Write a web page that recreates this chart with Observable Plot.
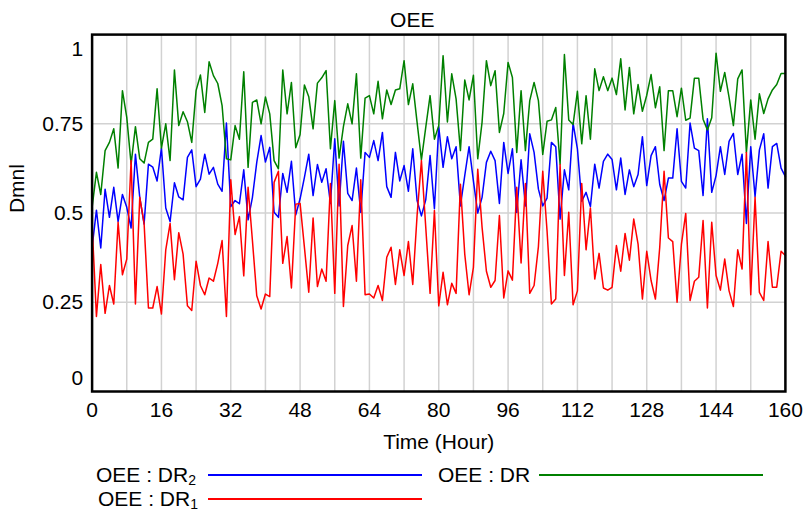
<!DOCTYPE html>
<html>
<head>
<meta charset="utf-8">
<script src="https://cdn.jsdelivr.net/npm/d3@7"></script>
<script src="https://cdn.jsdelivr.net/npm/@observablehq/plot@0.6"></script>
<style>
  html, body { margin: 0; padding: 0; background: #fff; }
  #wrap { position: relative; width: 804px; height: 512px; font-family: "Liberation Sans", Arial, Helvetica, sans-serif; color: #000; overflow: hidden; }
  #chart { position: absolute; left: 0; top: 0; }
  .lg-text { position: absolute; font-size: 21px; line-height: 21px; white-space: nowrap; }
  .lg-text sub { font-size: 14px; vertical-align: -3px; line-height: 0; }
  .lg-line { position: absolute; height: 2px; }
</style>
</head>
<body>
<div id="wrap"><div id="chart"></div></div>
<script>
// ---- data ----
const title = "OEE";
const xLabel = "Time (Hour)";
const yLabel = "Dmnl";
const xTickLabels = [0, 16, 32, 48, 64, 80, 96, 112, 128, 144, 160];
const xGridHours = [0, 8, 16, 24, 32, 40, 48, 56, 64, 72, 80, 88, 96, 104, 112, 120, 128, 136, 144, 152, 160];
const yTickMiddle = [0.25, 0.5, 0.75];
const yTickTop = [1];
const yTickBottom = [0];

// OEE : DR (green)
const oeeDR = [
  0.516,0.614,0.552,0.675,0.698,0.736,0.626,0.843,0.768,0.637,
  0.742,0.652,0.640,0.698,0.707,0.848,0.682,0.750,0.647,0.901,
  0.745,0.784,0.756,0.698,0.843,0.887,0.782,0.924,0.885,0.863,
  0.801,0.652,0.649,0.745,0.707,0.896,0.628,0.810,0.817,0.750,
  0.825,0.778,0.647,0.624,0.901,0.778,0.866,0.683,0.720,0.859,
  0.826,0.736,0.864,0.879,0.899,0.680,0.815,0.654,0.742,0.806,
  0.750,0.890,0.654,0.822,0.829,0.778,0.869,0.764,0.845,0.804,
  0.845,0.848,0.927,0.804,0.862,0.754,0.649,0.740,0.829,0.707,
  0.745,0.941,0.755,0.890,0.820,0.675,0.873,0.817,0.886,0.652,
  0.755,0.927,0.857,0.899,0.726,0.779,0.922,0.880,0.670,0.843,
  0.675,0.815,0.866,0.815,0.664,0.757,0.761,0.796,0.637,0.944,
  0.761,0.748,0.841,0.694,0.829,0.707,0.904,0.843,0.882,0.843,
  0.878,0.832,0.932,0.789,0.908,0.778,0.860,0.785,0.830,0.888,
  0.795,0.854,0.675,0.843,0.843,0.770,0.850,0.760,0.766,0.878,
  0.878,0.763,0.733,0.767,0.948,0.841,0.894,0.824,0.745,0.876,
  0.901,0.670,0.817,0.707,0.834,0.779,0.820,0.845,0.860,0.891,
  0.891
];

// OEE : DR2 (blue)
const oeeDR2 = [
  0.404,0.508,0.402,0.567,0.488,0.572,0.476,0.552,0.516,0.458,
  0.665,0.544,0.469,0.637,0.629,0.590,0.682,0.514,0.476,0.585,
  0.545,0.537,0.656,0.677,0.574,0.595,0.665,0.609,0.628,0.581,
  0.561,0.752,0.518,0.535,0.526,0.621,0.481,0.544,0.642,0.717,
  0.643,0.684,0.502,0.488,0.611,0.558,0.645,0.495,0.540,0.600,
  0.665,0.549,0.636,0.586,0.624,0.527,0.708,0.520,0.701,0.555,
  0.535,0.626,0.502,0.670,0.656,0.703,0.647,0.726,0.574,0.544,
  0.670,0.590,0.633,0.561,0.680,0.535,0.492,0.537,0.661,0.512,
  0.742,0.628,0.714,0.652,0.686,0.520,0.605,0.686,0.590,0.500,
  0.544,0.642,0.673,0.647,0.527,0.698,0.611,0.680,0.502,0.649,
  0.520,0.722,0.670,0.567,0.520,0.542,0.698,0.686,0.483,0.621,
  0.565,0.752,0.680,0.533,0.558,0.518,0.637,0.570,0.645,0.665,
  0.650,0.565,0.654,0.552,0.621,0.574,0.608,0.714,0.577,0.661,
  0.686,0.580,0.535,0.598,0.598,0.736,0.589,0.570,0.752,0.682,
  0.675,0.549,0.764,0.558,0.605,0.686,0.608,0.701,0.723,0.608,
  0.665,0.471,0.686,0.546,0.677,0.722,0.570,0.686,0.695,0.626,
  0.602
];

// OEE : DR1 (red)
const oeeDR1 = [
  0.469,0.210,0.356,0.219,0.297,0.245,0.474,0.327,0.371,0.647,
  0.245,0.544,0.471,0.234,0.234,0.294,0.217,0.397,0.471,0.313,
  0.445,0.385,0.240,0.227,0.365,0.297,0.271,0.318,0.309,0.359,
  0.423,0.210,0.593,0.440,0.490,0.324,0.572,0.423,0.268,0.231,
  0.273,0.266,0.586,0.617,0.359,0.434,0.290,0.525,0.527,0.404,
  0.278,0.486,0.294,0.343,0.309,0.583,0.275,0.637,0.238,0.409,
  0.465,0.309,0.593,0.271,0.273,0.262,0.297,0.255,0.376,0.404,
  0.300,0.397,0.325,0.420,0.300,0.493,0.647,0.460,0.275,0.507,
  0.240,0.334,0.243,0.303,0.275,0.581,0.385,0.271,0.348,0.623,
  0.460,0.337,0.292,0.311,0.493,0.262,0.338,0.312,0.572,0.360,
  0.583,0.275,0.297,0.406,0.617,0.449,0.245,0.259,0.636,0.325,
  0.502,0.243,0.282,0.583,0.397,0.514,0.315,0.387,0.290,0.284,
  0.292,0.409,0.337,0.443,0.368,0.483,0.413,0.259,0.393,0.311,
  0.259,0.404,0.617,0.430,0.420,0.250,0.412,0.499,0.255,0.309,
  0.320,0.479,0.234,0.474,0.325,0.284,0.371,0.282,0.238,0.397,
  0.343,0.670,0.271,0.544,0.278,0.255,0.420,0.292,0.292,0.393,
  0.381
];

const seriesNames = ["OEE : DR2", "OEE : DR", "OEE : DR1"];
const seriesColors = ["#0000ff", "#008000", "#ff0000"];

// ---- build tables ----
const toRows = (vals) => vals.map((v, i) => ({hour: i, value: v}));
const rowsDR = toRows(oeeDR);
const rowsDR2 = toRows(oeeDR2);
const rowsDR1 = toRows(oeeDR1);

const font = "'Liberation Sans', Arial, Helvetica, sans-serif";

const chart = Plot.plot({
  width: 804,
  height: 460,
  marginLeft: 91.6,
  marginRight: 19.1,
  marginTop: 34.1,
  marginBottom: 69,
  style: {fontFamily: font, fontSize: "21px", background: "white", color: "black", overflow: "visible"},
  x: {domain: [0, 160]},
  y: {domain: [0, 1]},
  marks: [
    Plot.gridX(xGridHours, {stroke: "#d2d2d2", strokeOpacity: 1, strokeWidth: 1.5}),
    Plot.gridY(yTickMiddle, {stroke: "#d2d2d2", strokeOpacity: 1, strokeWidth: 1.5}),
    Plot.line(rowsDR2, {x: "hour", y: "value", stroke: seriesColors[0], strokeWidth: 1.5}),
    Plot.line(rowsDR, {x: "hour", y: "value", stroke: seriesColors[1], strokeWidth: 1.5}),
    Plot.line(rowsDR1, {x: "hour", y: "value", stroke: seriesColors[2], strokeWidth: 1.5}),
    Plot.frame({stroke: "black", strokeWidth: 2.5}),
    Plot.axisX(xTickLabels, {tickSize: 0, tickPadding: 11, label: null, fill: "black", fontSize: 21}),
    Plot.axisY(yTickMiddle, {tickSize: 0, tickPadding: 9, label: null, tickFormat: d => String(d), fill: "black", fontSize: 21}),
    Plot.axisY(yTickTop, {tickSize: 0, tickPadding: 9, label: null, tickFormat: d => String(d), dy: 15, fill: "black", fontSize: 21}),
    Plot.axisY(yTickBottom, {tickSize: 0, tickPadding: 9, label: null, tickFormat: d => String(d), dy: -13, fill: "black", fontSize: 21}),
    Plot.text([xLabel], {frameAnchor: "bottom", lineAnchor: "middle", dy: 51, fontSize: 21, fill: "black"}),
    Plot.text([yLabel], {frameAnchor: "left", lineAnchor: "middle", dx: -75, rotate: -90, fontSize: 21, fill: "black"}),
    Plot.text([title], {frameAnchor: "top", lineAnchor: "middle", dy: -14.5, dx: -26.5, fontSize: 21, fill: "black"})
  ]
});
document.getElementById("chart").appendChild(chart);

// ---- legend (HTML, below the SVG) ----
const wrap = document.getElementById("wrap");
const legendItems = [
  {name: seriesNames[0], color: seriesColors[0], textLeft: 96, lineLeft: 208, lineRight: 422, cy: 475},
  {name: seriesNames[1], color: seriesColors[1], textLeft: 438, lineLeft: 539, lineRight: 763, cy: 475},
  {name: seriesNames[2], color: seriesColors[2], textLeft: 98, lineLeft: 208, lineRight: 422, cy: 499}
];
for (const it of legendItems) {
  const t = document.createElement("div");
  t.className = "lg-text";
  const m = it.name.match(/^(.*?DR)(\d?)$/);
  t.innerHTML = m[1] + (m[2] ? "<sub>" + m[2] + "</sub>" : "");
  t.style.left = it.textLeft + "px";
  t.style.top = (it.cy - 11) + "px";
  wrap.appendChild(t);
  const l = document.createElement("div");
  l.className = "lg-line";
  l.style.left = it.lineLeft + "px";
  l.style.width = (it.lineRight - it.lineLeft) + "px";
  l.style.top = (it.cy - 1) + "px";
  l.style.background = it.color;
  wrap.appendChild(l);
}
</script>
</body>
</html>
